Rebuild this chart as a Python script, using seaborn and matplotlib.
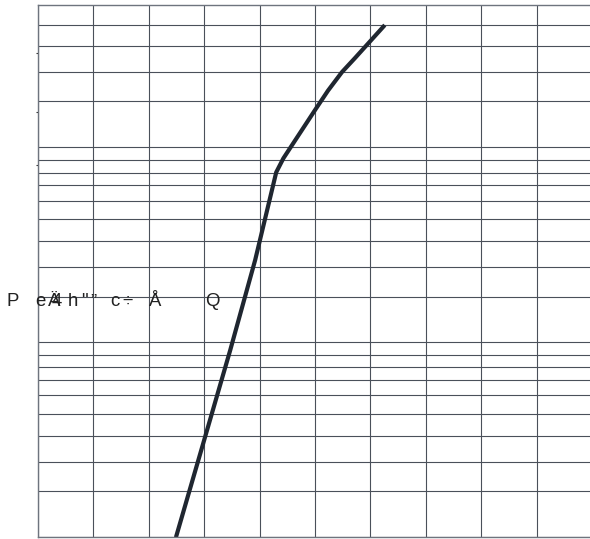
import matplotlib
matplotlib.use("Agg")
import matplotlib.pyplot as plt
import seaborn as sns
import pandas as pd

# curve (x in grid columns, y in chart units)
x_vals = [2.49, 3.0, 3.47, 3.92, 4.30, 4.43, 5.0, 5.235, 5.487, 5.722, 6.26]
y_vals = [0.0, 4.99, 9.6, 14.22, 18.72, 19.44, 21.91, 22.91, 23.86, 24.58, 26.27]

# grid lines
x_grid = [0, 1, 2, 3, 4, 5, 6, 7, 8, 9, 10]
y_grid = [0, 2.36, 3.86, 5.21, 6.31, 7.28, 8.07, 8.71, 9.35,
          10.0, 12.34, 13.88, 15.21, 16.31, 17.27, 18.07, 18.7, 19.33,
          20.0, 22.38, 23.88, 25.21, 26.29]
y_marks = [24.83, 21.79, 19.09]

# garbled label glyphs and their left x (pixels)
label_chars = ["P", "e", "Ä", "4", "h", '"', "”", "c", "÷", "Å", "Q"]
label_x = [7, 35, 48, 52, 68, 81, 90, 110, 122, 149, 205]

df = pd.DataFrame({"x": x_vals, "y": y_vals})

sns.set_style("white")
plt.rcParams["font.family"] = ["Liberation Sans", "DejaVu Sans"]

W, H = 590, 539
fig = plt.figure(figsize=(W / 100, H / 100), dpi=100)
ax = fig.add_axes([38 / W, 1.7 / H, 554 / W, 532.3 / H])

ax.set_xlim(0, 10)
ax.set_ylim(0, 27.3)
ax.set_xticks(x_grid)
ax.set_yticks(y_grid)
ax.set_yticks(y_marks, minor=True)
ax.grid(True, color="#4a505a", linewidth=0.8)
ax.tick_params(which="major", length=0, labelleft=False, labelbottom=False)
ax.tick_params(which="minor", axis="y", length=1.5, width=0.8,
               direction="out", color="#333", left=True)
for s in ax.spines.values():
    s.set_color("#6e747e")
    s.set_linewidth(1.0)

sns.lineplot(data=df, x="x", y="y", sort=False, estimator=None, ax=ax,
             color="#1f2630", linewidth=3.0, solid_capstyle="butt")
ax.set_xlabel("")
ax.set_ylabel("")

for ch, px in zip(label_chars, label_x):
    fig.text(px / W, (H - 306) / H, ch, fontsize=13.4, color="#222",
             ha="left", va="baseline")

fig.savefig("out.png", dpi=100)
